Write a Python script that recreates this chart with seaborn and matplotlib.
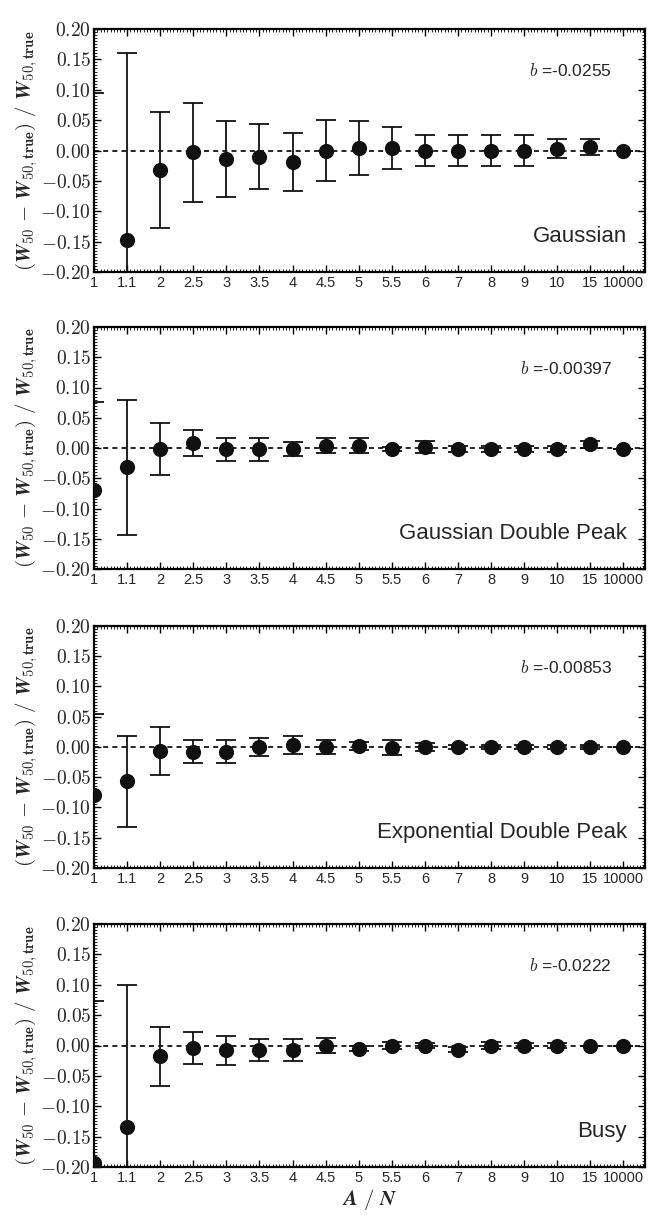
import numpy as np
import pandas as pd
import matplotlib
matplotlib.use("Agg")
import matplotlib.pyplot as plt
import seaborn as sns
from matplotlib.ticker import FixedLocator, MultipleLocator, FuncFormatter

sns.set_theme(style="ticks")
plt.rcParams['font.family'] = ['Liberation Sans', 'DejaVu Sans']
plt.rcParams['mathtext.fontset'] = 'cm'

categories = ["1", "1.1", "2", "2.5", "3", "3.5", "4", "4.5", "5", "5.5",
              "6", "7", "8", "9", "10", "15", "10000"]

panel_names = ["Gaussian", "Gaussian Double Peak", "Exponential Double Peak", "Busy"]
b_values = ["-0.0255", "-0.00397", "-0.00853", "-0.0222"]

gauss_mean = [-0.25, -0.147, -0.032, -0.003, -0.014, -0.010, -0.019, 0.000, 0.004, 0.004,
              0.000, 0.000, 0.000, 0.000, 0.003, 0.006, 0.000]
gauss_err = [0.345, 0.307, 0.095, 0.081, 0.063, 0.054, 0.047, 0.050, 0.044, 0.035,
             0.025, 0.025, 0.025, 0.025, 0.016, 0.013, 0.0]

gdp_mean = [-0.069, -0.032, -0.001, 0.008, -0.002, -0.002, -0.002, 0.004, 0.004, -0.002,
            0.002, -0.002, -0.002, -0.002, -0.002, 0.006, -0.001]
gdp_err = [0.145, 0.111, 0.043, 0.021, 0.019, 0.019, 0.012, 0.012, 0.012, 0.003,
           0.010, 0.005, 0.005, 0.005, 0.005, 0.006, 0.0]

edp_mean = [-0.079, -0.057, -0.007, -0.008, -0.008, 0.000, 0.003, 0.000, 0.002, -0.001,
            0.000, 0.000, 0.000, 0.000, 0.000, 0.000, 0.000]
edp_err = [0.134, 0.075, 0.040, 0.019, 0.019, 0.015, 0.015, 0.012, 0.007, 0.012,
           0.007, 0.004, 0.004, 0.004, 0.004, 0.004, 0.0]

busy_mean = [-0.193, -0.134, -0.018, -0.004, -0.008, -0.008, -0.008, 0.000, -0.005, 0.000,
             0.000, -0.007, 0.000, 0.000, 0.000, 0.000, 0.000]
busy_err = [0.267, 0.234, 0.049, 0.027, 0.024, 0.018, 0.018, 0.012, 0.004, 0.005,
            0.004, 0.004, 0.005, 0.004, 0.004, 0.0, 0.0]

means = [gauss_mean, gdp_mean, edp_mean, busy_mean]
errs = [gauss_err, gdp_err, edp_err, busy_err]

fig = plt.figure(figsize=(6.61, 12.15), dpi=100)
W, H = 661, 1215
left_px, right_px = 94, 645
panels_px = [(29, 272), (327, 569), (626, 868), (924, 1167)]

ylabel = (r'$\mathbf{(}\mathbfit{W}_{\mathbf{50}}\ \mathbf{-}\ \mathbfit{W}_{\mathbf{50,true}}\mathbf{)}'
          r'\ \mathbf{/}\ \mathbfit{W}_{\mathbf{50,true}}$')

xpos = np.arange(len(categories))
yfmt = FuncFormatter(lambda v, p: r'$%.2f$' % v if abs(v) > 1e-9 else r'$0.00$')

for i, (top, bot) in enumerate(panels_px):
    ax = fig.add_axes([left_px / W, 1 - bot / H, (right_px - left_px) / W, (bot - top) / H])
    df = pd.DataFrame({"x": xpos, "y": means[i], "err": errs[i]})
    ax.axhline(0, color='black', ls=(0, (3, 2.5)), lw=1.2, zorder=1)
    ax.errorbar(df["x"], df["y"], yerr=df["err"], fmt='none', ecolor='#111111',
                elinewidth=1.3, capsize=7, capthick=1.3, zorder=2)
    sns.scatterplot(data=df, x="x", y="y", ax=ax, s=120, color='#111111',
                    edgecolor='#111111', linewidth=0, zorder=3, legend=False)
    ax.set_xlim(0, 16.65)
    ax.set_ylim(-0.2, 0.2)
    ax.xaxis.set_major_locator(FixedLocator(xpos))
    ax.set_xticklabels(categories, fontsize=10.5)
    ax.xaxis.set_minor_locator(MultipleLocator(0.1))
    ax.yaxis.set_major_locator(MultipleLocator(0.05))
    ax.yaxis.set_minor_locator(MultipleLocator(0.005))
    ax.yaxis.set_major_formatter(yfmt)
    ax.tick_params(axis='both', which='major', direction='in', top=True, right=True,
                   length=5, width=1.0, color='black', pad=3)
    ax.tick_params(axis='both', which='minor', direction='in', top=True, right=True,
                   length=2, width=0.6, color='black')
    ax.tick_params(axis='y', labelsize=14, pad=2)
    for sp in ax.spines.values():
        sp.set_linewidth(1.6)
        sp.set_color('black')
    ax.set_ylabel(ylabel, fontsize=15, labelpad=0)
    ax.set_xlabel('')
    ax.text(0.94, 0.83, r'$b$ =' + b_values[i], transform=ax.transAxes,
            ha='right', va='center', fontsize=12.5)
    ax.text(0.967, 0.148, panel_names[i], transform=ax.transAxes,
            ha='right', va='center', fontsize=16)
    if i == 3:
        ax.set_xlabel(r'$\mathbfit{A}\ /\ \mathbfit{N}$', fontsize=15, labelpad=1)

fig.savefig("out.png", dpi=100)
